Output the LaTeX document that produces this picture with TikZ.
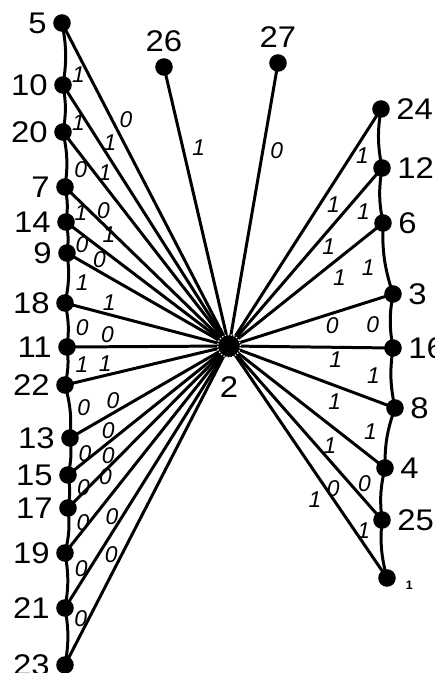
\documentclass[tikz,border=0pt]{standalone}
\usepackage{fontspec}
\setmainfont{Liberation Sans}
\newfontfamily\numfont[FakeStretch=1.1]{Liberation Sans}
\usetikzlibrary{backgrounds}

\begin{document}
\begin{tikzpicture}[
  x=0.02cm, y=-0.02cm,
  every label/.style={font=\numfont\fontsize{17}{19}\selectfont},
  dot/.style={circle, fill=black, inner sep=0pt, minimum size=10pt},
  hub/.style={circle, fill=black, draw=white, densely dotted, line width=0.7pt,
    inner sep=0pt, minimum size=13pt},
  wire/.style={line width=1.7pt},
  lbl/.style={font=\fontsize{13}{13}\selectfont\itshape, inner sep=1.5pt}
]
  \useasboundingbox (0,0) rectangle (434,673);

  % left column
  \node[dot, label=left:5]  (n5)  at (62,23)  {};
  \node[dot, label=left:10] (n10) at (63,85)  {};
  \node[dot, label=left:20] (n20) at (63,132) {};
  \node[dot, label=left:7]  (n7)  at (65,187) {};
  \node[dot, label=left:14] (n14) at (66,222) {};
  \node[dot, label=left:9]  (n9)  at (67,253) {};
  \node[dot, label=left:18] (n18) at (65,303) {};
  \node[dot, label=left:11] (n11) at (67,347) {};
  \node[dot, label=left:22] (n22) at (65,385) {};
  \node[dot, label=left:13] (n13) at (70,438) {};
  \node[dot, label=left:15] (n15) at (68,475) {};
  \node[dot, label=left:17] (n17) at (68,508) {};
  \node[dot, label=left:19] (n19) at (65,553) {};
  \node[dot, label=left:21] (n21) at (65,608) {};
  \node[dot, label=left:23] (n23) at (65,665) {};

  % top and hub
  \node[dot, label=above:26] (n26) at (164,67) {};
  \node[dot, label=above:27] (n27) at (278,63) {};
  \node[hub, label={[label distance=7pt]below:2}] (n2) at (229,346) {};

  % right column
  \node[dot, label=right:24] (n24) at (381,109) {};
  \node[dot, label=right:12] (n12) at (382,168) {};
  \node[dot, label=right:6]  (n6)  at (383,223) {};
  \node[dot, label=right:3]  (n3)  at (393,294) {};
  \node[dot, label=right:16] (n16) at (393,348) {};
  \node[dot, label=right:8]  (n8)  at (395,408) {};
  \node[dot, label=right:4]  (n4)  at (385,468) {};
  \node[dot, label=right:25] (n25) at (382,520) {};
  \node[dot, label={[font=\fontsize{7}{7}\selectfont\bfseries, xshift=2pt, yshift=-4pt]right:1}]
    (n1) at (387,578) {};

  \begin{scope}[on background layer]
  \begin{scope}[wire]
    % spokes to the hub
    \draw (n5.center)  -- node[lbl, pos=.30, right=2pt]  {0} (n2.center);
    \draw (n10.center) -- node[lbl, pos=.22, right]      {1} (n2.center);
    \draw (n20.center) -- node[lbl, pos=.19, right]      {1} (n2.center);
    \draw (n7.center)  -- node[lbl, pos=.15, right=2pt]  {0} (n2.center);
    \draw (n14.center) -- node[lbl, pos=.20, above right] {1} (n2.center);
    \draw (n9.center)  -- node[lbl, pos=.20, above]      {0} (n2.center);
    \draw (n18.center) -- node[lbl, pos=.27, above]      {1} (n2.center);
    \draw (n11.center) -- node[lbl, pos=.25, above]      {0} (n2.center);
    \draw (n22.center) -- node[lbl, pos=.245, above]     {1} (n2.center);
    \draw (n13.center) -- node[lbl, pos=.27, above]      {0} (n2.center);
    \draw (n15.center) -- node[lbl, pos=.25, above]      {0} (n2.center);
    \draw (n17.center) -- node[lbl, pos=.25, above]      {0} (n2.center);
    \draw (n19.center) -- node[lbl, pos=.31, above left] {0} (n2.center);
    \draw (n21.center) -- node[lbl, pos=.35, left]       {0} (n2.center);
    \draw (n23.center) -- node[lbl, pos=.345, left]      {0} (n2.center);
    \draw (n26.center) -- node[lbl, pos=.29, right=3pt]  {1} (n2.center);
    \draw (n27.center) -- node[lbl, pos=.31, right=2pt]  {0} (n2.center);
    \draw (n24.center) -- node[lbl, pos=.405, right=2pt] {1} (n2.center);
    \draw (n12.center) -- node[lbl, pos=.44, right=2pt]  {1} (n2.center);
    \draw (n6.center)  -- node[lbl, pos=.35, below right] {1} (n2.center);
    \draw (n3.center)  -- node[lbl, pos=.37, below]      {0} (n2.center);
    \draw (n16.center) -- node[lbl, pos=.35, below]      {1} (n2.center);
    \draw (n8.center)  -- node[lbl, pos=.30, below left] {1} (n2.center);
    \draw (n4.center)  -- node[lbl, pos=.285, below left] {1} (n2.center);
    \draw (n25.center) -- node[lbl, pos=.25, below left] {0} (n2.center);
    \draw (n1.center)  -- node[lbl, pos=.39, below left] {1} (n2.center);

    % left chain
    \draw (n5.center)  to[bend left=10] node[lbl, pos=.84, right=2pt] {1} (n10.center);
    \draw (n10.center) to[bend left=10] node[lbl, pos=.81, right=2pt] {1} (n20.center);
    \draw (n20.center) to[bend left=10] node[lbl, pos=.69, right=2pt] {0} (n7.center);
    \draw (n7.center)  to[bend left=10] node[lbl, pos=.74, right=2pt] {1} (n14.center);
    \draw (n14.center) to[bend left=10] node[lbl, pos=.74, right=2pt] {0} (n9.center);
    \draw (n9.center)  to[bend left=10] node[lbl, pos=.60, right=2pt] {1} (n18.center);
    \draw (n18.center) to[bend left=10] node[lbl, pos=.57, right=2pt] {0} (n11.center);
    \draw (n11.center) to[bend left=10] node[lbl, pos=.47, right=2pt] {1} (n22.center);
    \draw (n22.center) to[bend left=10] node[lbl, pos=.42, right=2pt] {0} (n13.center);
    \draw (n13.center) to[bend left=10] node[lbl, pos=.40, right=2pt] {0} (n15.center);
    \draw (n15.center) to[bend left=10] node[lbl, pos=.36, right=2pt] {0} (n17.center);
    \draw (n17.center) to[bend left=10] node[lbl, pos=.31, right=2pt] {0} (n19.center);
    \draw (n19.center) to[bend left=10] node[lbl, pos=.27, right=2pt] {0} (n21.center);
    \draw (n21.center) to[bend left=10] node[lbl, pos=.18, right=2pt] {0} (n23.center);

    % right chain
    \draw (n24.center) to[bend right=10] node[lbl, pos=.81, left=4pt] {1} (n12.center);
    \draw (n12.center) to[bend right=10] node[lbl, pos=.80, left=4pt] {1} (n6.center);
    \draw (n6.center)  to[bend right=10] node[lbl, pos=.63, left=4pt] {1} (n3.center);
    \draw (n3.center)  to[bend right=10] node[lbl, pos=.57, left=4pt] {0} (n16.center);
    \draw (n16.center) to[bend right=10] node[lbl, pos=.45, left=4pt] {1} (n8.center);
    \draw (n8.center)  to[bend right=10] node[lbl, pos=.40, left=4pt] {1} (n4.center);
    \draw (n4.center)  to[bend right=10] node[lbl, pos=.29, left=4pt] {0} (n25.center);
    \draw (n25.center) to[bend right=10] node[lbl, pos=.17, left=4pt] {1} (n1.center);
  \end{scope}
  \end{scope}
\end{tikzpicture}
\end{document}
